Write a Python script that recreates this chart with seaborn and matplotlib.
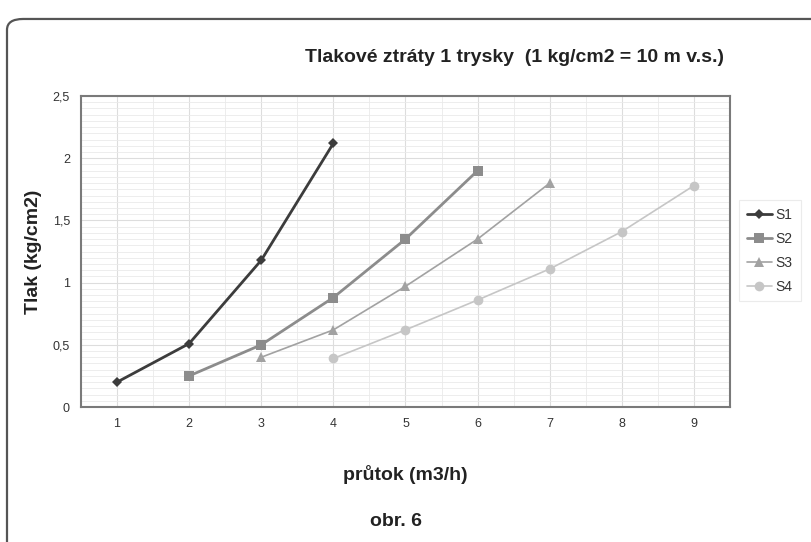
import matplotlib
matplotlib.use('Agg')
import matplotlib.pyplot as plt
from matplotlib.patches import FancyBboxPatch
from matplotlib.ticker import MultipleLocator, FixedLocator
import seaborn as sns
import pandas as pd

# data
s1_x = [1, 2, 3, 4]
s1_y = [0.20, 0.51, 1.18, 2.12]
s2_x = [2, 3, 4, 5, 6]
s2_y = [0.25, 0.50, 0.88, 1.35, 1.90]
s3_x = [3, 4, 5, 6, 7]
s3_y = [0.40, 0.62, 0.97, 1.35, 1.80]
s4_x = [4, 5, 6, 7, 8, 9]
s4_y = [0.39, 0.62, 0.86, 1.11, 1.41, 1.78]

y_ticks = [0, 0.5, 1, 1.5, 2, 2.5]
y_labels = ['0', '0,5', '1', '1,5', '2', '2,5']
x_ticks = [1, 2, 3, 4, 5, 6, 7, 8, 9]

series = [
    ('S1', s1_x, s1_y, '#3c3c3c', 'D', 2.0, 5),
    ('S2', s2_x, s2_y, '#8c8c8c', 's', 2.0, 7),
    ('S3', s3_x, s3_y, '#a2a2a2', '^', 1.2, 7),
    ('S4', s4_x, s4_y, '#c6c6c6', 'o', 1.2, 7),
]

sns.set_style('white')
plt.rcParams['font.family'] = ['Liberation Sans', 'DejaVu Sans']

fig = plt.figure(figsize=(8.12, 5.42), dpi=100)
ax = fig.add_axes([81 / 812, 1 - 407 / 542, (730 - 81) / 812, (407 - 96) / 542])

# rounded outer frame (right and bottom edges run off the image)
frame = FancyBboxPatch((7 / 812, -0.1), 1.2, 1.085 - 0.02, transform=fig.transFigure,
                       boxstyle='round,pad=0,rounding_size=0.02', fill=False,
                       edgecolor='#555555', linewidth=1.6, zorder=0)
fig.patches.append(frame)

for name, xs, ys, col, mk, lw, ms in series:
    df = pd.DataFrame({'x': xs, 'y': ys})
    sns.lineplot(data=df, x='x', y='y', ax=ax, color=col, marker=mk, markersize=ms,
                 linewidth=lw, markeredgewidth=0, label=name)

ax.set_xlim(0.5, 9.5)
ax.set_ylim(0, 2.5)
ax.xaxis.set_major_locator(FixedLocator(x_ticks))
ax.xaxis.set_minor_locator(MultipleLocator(0.5))
ax.yaxis.set_major_locator(FixedLocator(y_ticks))
ax.yaxis.set_minor_locator(MultipleLocator(0.05))
ax.set_yticklabels(y_labels)
ax.grid(which='major', color='#dddddd', linewidth=0.8)
ax.grid(which='minor', color='#eaeaea', linewidth=0.6)
ax.set_axisbelow(True)
ax.tick_params(axis='both', which='both', length=0, labelsize=9, colors='#333333', pad=8)

for sp in ax.spines.values():
    sp.set_color('#7a7a7a')
    sp.set_linewidth(1.5)

ax.set_xlabel('průtok (m3/h)', fontsize=14, fontweight='bold', color='#222222', labelpad=25)
ax.set_ylabel('Tlak (kg/cm2)', fontsize=14, fontweight='bold', color='#222222', labelpad=8)

fig.text(515 / 812, 1 - 57 / 542, 'Tlakové ztráty 1 trysky  (1 kg/cm2 = 10 m v.s.)',
         ha='center', va='center', fontsize=14, fontweight='bold', color='#222222')
fig.text(396 / 812, 1 - 522 / 542, 'obr. 6', ha='center', va='center',
         fontsize=14, fontweight='bold', color='#222222')

leg = ax.legend(loc='upper left', bbox_to_anchor=(739 / 812, 1 - 200 / 542),
                bbox_transform=fig.transFigure, frameon=True, fontsize=10,
                handlelength=1.8, handletextpad=0.3, borderpad=0.55, labelspacing=0.72,
                fancybox=False, borderaxespad=0)
leg.get_frame().set_edgecolor('#e6e6e6')
leg.get_frame().set_linewidth(0.8)
for t in leg.get_texts():
    t.set_color('#333333')

fig.savefig('out.png', dpi=100)
